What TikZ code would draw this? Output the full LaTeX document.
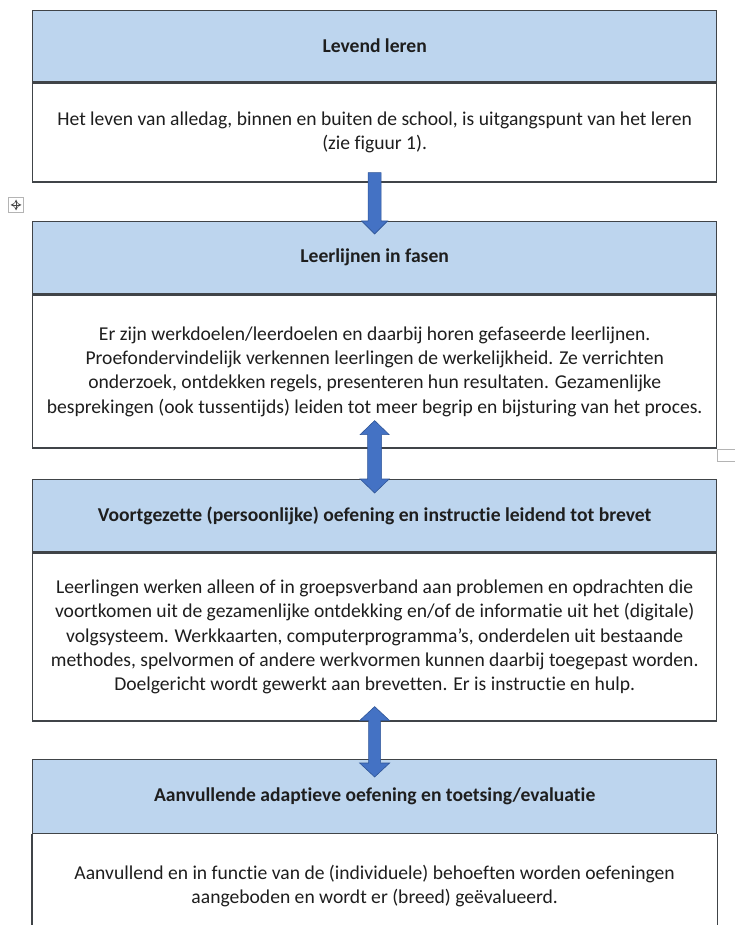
\documentclass[tikz,border=0pt]{standalone}
\usepackage{fontspec}
\setmainfont{Carlito}[Ligatures=CommonOff]
\usetikzlibrary{calc}
\definecolor{headblue}{HTML}{BDD5EE}
\definecolor{borderc}{HTML}{404448}
\definecolor{arrowfill}{HTML}{4472C4}
\definecolor{arrowline}{HTML}{2F5597}
\definecolor{textc}{HTML}{1E1E1E}
\definecolor{ghost}{HTML}{B4B4B4}
\newcommand\dblarrow[5]{%
  \filldraw[blockarrow] (#1) -- ++(#4,#3) -- ++({#5-#4},0) -- ($(#2)+(#5,-#3)$) -- ++({#4-#5},0) -- (#2) -- ++(-#4,-#3) -- ++({#4-#5},0) -- ($(#1)+(-#5,#3)$) -- ++({#5-#4},0) -- cycle;}
\begin{document}
\begin{tikzpicture}[x=1pt,y=-1pt,
  headbox/.style={draw=borderc, line width=1.3pt, fill=headblue, minimum width=684pt, inner sep=0pt, anchor=north west, text=textc, font=\fontsize{19.6}{24.3}\selectfont\bfseries},
  bodybox/.style={draw=borderc, line width=1.3pt, fill=white, minimum width=684pt, inner sep=0pt, anchor=north, align=center, text=textc, font=\fontsize{19.6}{24.3}\selectfont},
  blockarrow/.style={fill=arrowfill, draw=arrowline, line width=0.6pt, line join=miter}
]
\useasboundingbox (0,0) rectangle (735,925);
\fill[white] (0,0) rectangle (735,925);

% box 1
\node[headbox, minimum height=71pt] (h1) at (32,10) {Levend leren};
\node[bodybox, minimum height=99pt] (b1) at (h1.south) {Het leven van alledag, binnen en buiten de school, is uitgangspunt van het leren\\(zie figuur 1).};

% box 2
\node[headbox, minimum height=72pt] (h2) at (32,221) {Leerlijnen in fasen};
\node[bodybox, minimum height=153pt] (b2) at (h2.south) {Er zijn werkdoelen/leerdoelen en daarbij horen gefaseerde leerlijnen.\\Proefondervindelijk verkennen leerlingen de werkelijkheid. Ze verrichten\\onderzoek, ontdekken regels, presenteren hun resultaten. Gezamenlijke\\besprekingen (ook tussentijds) leiden tot meer begrip en bijsturing van het proces.};

% box 3
\node[headbox, minimum height=72pt] (h3) at (32,479) {Voortgezette (persoonlijke) oefening en instructie leidend tot brevet};
\node[bodybox, minimum height=168pt] (b3) at (h3.south) {Leerlingen werken alleen of in groepsverband aan problemen en opdrachten die\\voortkomen uit de gezamenlijke ontdekking en/of de informatie uit het (digitale)\\volgsysteem. Werkkaarten, computerprogramma’s, onderdelen uit bestaande\\methodes, spelvormen of andere werkvormen kunnen daarbij toegepast worden.\\Doelgericht wordt gewerkt aan brevetten. Er is instructie en hulp.};

% box 4 (cut off at bottom)
\node[headbox, minimum height=74pt] (h4) at (32,759) {Aanvullende adaptieve oefening en toetsing/evaluatie};
\node[bodybox, draw=none, fill=none, minimum height=102pt] (b4) at (h4.south) {Aanvullend en in functie van de (individuele) behoeften worden oefeningen\\aangeboden en wordt er (breed) geëvalueerd.};
\draw[borderc, line width=1.3pt] (h4.south west) -- (b4.south west);
\draw[borderc, line width=1.3pt] (h4.south east) -- (b4.south east);

% arrows
\coordinate (a1s) at ($(b1.south)+(0,-10)$);
\coordinate (a1t) at ($(h2.north)+(0,13)$);
\filldraw[blockarrow] ($(a1s)+(-6.5,0)$) -- ($(h2.north)+(-6.5,0)$) -- ($(h2.north)+(-13,0)$) -- (a1t) -- ($(h2.north)+(13,0)$) -- ($(h2.north)+(6.5,0)$) -- ($(a1s)+(6.5,0)$) -- cycle;

\coordinate (a2t) at ($(b2.south)+(0,-28)$);
\coordinate (a2b) at ($(h3.north)+(0,14)$);
\dblarrow{a2t}{a2b}{14}{14.5}{7}

\coordinate (a3t) at ($(b3.south)+(0,-15)$);
\coordinate (a3b) at ($(h4.north)+(0,18)$);
\dblarrow{a3t}{a3b}{14}{15}{6}

% table move handle
\node[draw=ghost, line width=0.6pt, minimum size=15pt, inner sep=0pt] (mv) at (16,205) {};
\draw[ghost!40!black, line width=0.7pt, <->, >=stealth] ($(mv.center)+(-5.5,0)$) -- ($(mv.center)+(5.5,0)$);
\draw[ghost!40!black, line width=0.7pt, <->, >=stealth] ($(mv.center)+(0,-5.5)$) -- ($(mv.center)+(0,5.5)$);

% small marker at right
\coordinate (sq) at (717,449);
\draw[ghost, line width=0.8pt] (740,449) -- (sq) -- ++(0,12) -- (740,461);
\end{tikzpicture}
\end{document}
